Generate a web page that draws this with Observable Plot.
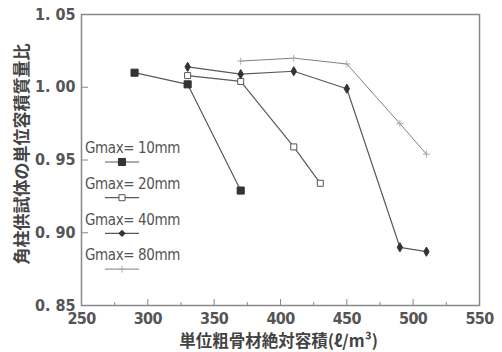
<!DOCTYPE html>
<html><head><meta charset="utf-8">
<script src="https://cdn.jsdelivr.net/npm/d3@7"></script>
<script src="https://cdn.jsdelivr.net/npm/@observablehq/plot@0.6"></script>
<style>
body{margin:0;background:#fff;}
#chart{position:relative;width:502px;height:352px;overflow:hidden;}
#legend{position:absolute;left:0;top:0;}
#chart g[aria-label$="tick label"], #chart g[aria-label$="tick label"] text,
#legend text {
  font-family: "DejaVu Sans Condensed", "Liberation Sans Narrow", "Roboto", sans-serif;
  font-stretch: condensed;
}
#chart g[aria-label$="tick label"] text { font-weight: bold; font-size: 16px; fill: #555; }
#chart g[aria-label="x-axis tick label"] text { letter-spacing: -0.6px; }
</style></head><body><div id="chart"></div>
<script>
// ---- data ----
const seriesNames = ["Gmax=10mm", "Gmax=20mm", "Gmax=40mm", "Gmax=80mm"];
const x10 = [290, 330, 370];
const y10 = [1.010, 1.002, 0.929];
const x20 = [330, 370, 410, 430];
const y20 = [1.008, 1.004, 0.959, 0.934];
const x40 = [330, 370, 410, 450, 490, 510];
const y40 = [1.014, 1.009, 1.011, 0.999, 0.890, 0.887];
const x80 = [370, 410, 450, 490, 510];
const y80 = [1.018, 1.020, 1.016, 0.975, 0.954];
const xTickLabels = [250, 300, 350, 400, 450, 500, 550];
const xMinorTicks = [275, 325, 375, 425, 475, 525];
const yTickLabels = [0.85, 0.90, 0.95, 1.00, 1.05];
const xTitle = "単位粗骨材絶対容積(ℓ/m³)";
const yTitle = "角柱供試体の単位容積質量比";

// ---- styles ----
const styles = [
  {symbol: "square", r: 4, fill: "#333", stroke: "#333", line: "#5a5a5a", lw: 1.2},
  {symbol: "square", r: 3.4, fill: "white", stroke: "#555", line: "#5a5a5a", lw: 1.2},
  {symbol: "diamond", r: 2.8, fill: "#333", stroke: "#333", line: "#5a5a5a", lw: 1.2},
  {symbol: "plus", r: 2.4, fill: "none", stroke: "#aaa", line: "#808080", lw: 1}
];
const xs = [x10, x20, x40, x80], ys = [y10, y20, y40, y80];
const series = seriesNames.map((name, i) => xs[i].map((x, j) => ({name, x, y: ys[i][j]})));

const cjk = "Noto Sans CJK JP, sans-serif";

const marks = [Plot.frame({stroke: "#888", strokeWidth: 1.5})];
series.forEach((d, i) => {
  const s = styles[i];
  marks.push(Plot.line(d, {x: "x", y: "y", stroke: s.line, strokeWidth: s.lw}));
  marks.push(Plot.dot(d, {x: "x", y: "y", symbol: () => s.symbol, r: s.r, fill: s.fill, stroke: s.stroke, strokeWidth: 1}));
});
marks.push(
  Plot.axisX(xTickLabels, {tickSize: -6, text: null, stroke: "#888", label: null}),
  Plot.axisX(xMinorTicks, {tickSize: -3, text: null, stroke: "#888", label: null}),
  Plot.axisX(xTickLabels, {tickSize: 0, tickPadding: 7, fontSize: 16, fontWeight: "bold", fill: "#555", label: null}),
  Plot.axisY(yTickLabels, {tickSize: -7, text: null, stroke: "#888", label: null}),
  Plot.axisY(yTickLabels, {tickSize: 0, tickPadding: 6, fontSize: 16, fontWeight: "bold", fill: "#555", label: null,
    tickFormat: d => d.toFixed(2).replace(".", ". ")}),
  Plot.text([yTitle], {frameAnchor: "left", rotate: -90, dx: -59, dy: -6, textAnchor: "middle", lineAnchor: "middle",
    fontFamily: cjk, fontSize: 17, fontWeight: "bold", fill: "#444"}),
  Plot.text([xTitle], {frameAnchor: "bottom", dy: 36, dx: -2, textAnchor: "middle", lineAnchor: "middle",
    fontFamily: cjk, fontSize: 16.5, fontWeight: "bold", fill: "#444"})
);

const chart = Plot.plot({
  width: 502, height: 352,
  marginLeft: 81, marginRight: 23, marginTop: 14, marginBottom: 47,
  style: {background: "#fff", overflow: "visible"},
  x: {domain: [250, 550], label: null},
  y: {domain: [0.85, 1.05], label: null},
  marks
});
document.getElementById("chart").appendChild(chart);

// ---- legend (inside plot, left) ----
const leg = d3.select("#chart").append("svg").attr("id", "legend").attr("width", 502).attr("height", 352);
const symGen = {square: d3.symbolSquare, diamond: d3.symbolDiamond2, plus: d3.symbolPlus};
seriesNames.forEach((name, i) => {
  const s = styles[i];
  const top = 148 + i * 35.7;
  const g = leg.append("g");
  g.append("text").attr("x", 85).attr("y", top).attr("dy", "0.35em")
    .attr("font-size", 15).attr("fill", "#555").attr("letter-spacing", "-0.4px")
    .text(name.replace("Gmax=", "Gmax= "));
  g.append("line").attr("x1", 105).attr("x2", 139).attr("y1", top + 14).attr("y2", top + 14)
    .attr("stroke", s.line).attr("stroke-width", s.lw);
  g.append("path").attr("transform", `translate(122,${top + 14})`)
    .attr("d", d3.symbol(symGen[s.symbol], s.r * s.r * Math.PI)())
    .attr("fill", s.fill).attr("stroke", s.stroke);
});
</script></body></html>
